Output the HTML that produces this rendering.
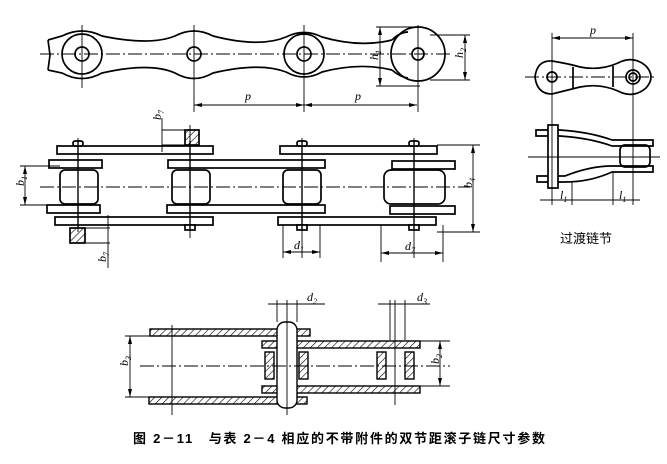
<!DOCTYPE html>
<html><head><meta charset="utf-8"><style>
html,body{margin:0;padding:0;background:#fff}
svg{display:block}
text{font-family:"Liberation Serif","Noto Serif CJK SC",serif;font-style:italic;font-size:12px;fill:#000}
.cj{font-family:"Liberation Sans","Noto Sans CJK SC",sans-serif;font-style:normal;font-weight:bold;font-size:13px}
</style></head><body>
<svg width="667" height="464" viewBox="0 0 667 464" xmlns="http://www.w3.org/2000/svg">
<defs>
<pattern id="h" width="5" height="5" patternUnits="userSpaceOnUse" patternTransform="rotate(45)"><line x1="0" y1="0" x2="0" y2="5" stroke="#000" stroke-width="1.2"/></pattern>
<marker id="a" markerWidth="8" markerHeight="6" refX="8" refY="3" orient="auto-start-reverse" markerUnits="userSpaceOnUse"><path d="M0,1 L8,3 L0,5 Z" fill="#000"/></marker>
</defs>
<g fill="none" stroke="#000" stroke-width="1.7">
<path d="M48,40 L62,36 Q82,26 102,36 Q150,46 175,36 Q194,26 213,36 Q260,48 286,37 Q304,28 322,37 Q360,48 392,40"/>
<path d="M48,70 L62,73 Q82,84 102,73 Q150,62 175,73 Q194,84 213,73 Q260,62 286,72 Q304,82 322,72 Q360,62 392,70"/>
<path d="M48,40 L50,55 L48,70"/>
<circle cx="82" cy="54" r="20"/><circle cx="304" cy="54" r="20"/>
<circle cx="82" cy="54" r="7"/><circle cx="194" cy="54" r="7"/><circle cx="304" cy="54" r="7"/><circle cx="418" cy="54" r="6"/>
<circle cx="418" cy="54" r="27"/><path d="M392,40 Q400,32 408,32 M392,70 Q400,77 408,78"/>
</g>
<g stroke="#000" stroke-width="0.9" fill="none">
<line x1="40" y1="54" x2="450" y2="54" stroke-dasharray="14,3,2,3"/>
<line x1="82" y1="25" x2="82" y2="88"/><line x1="194" y1="25" x2="194" y2="112"/><line x1="304" y1="25" x2="304" y2="112"/><line x1="418" y1="25" x2="418" y2="112"/>
<line x1="194" y1="105" x2="304" y2="105" marker-start="url(#a)" marker-end="url(#a)"/>
<line x1="304" y1="105" x2="417" y2="105" marker-start="url(#a)" marker-end="url(#a)"/>
<line x1="380" y1="27" x2="380" y2="86" marker-start="url(#a)" marker-end="url(#a)"/><line x1="376" y1="27" x2="420" y2="27"/><line x1="376" y1="86" x2="420" y2="86"/>
<line x1="465" y1="35" x2="465" y2="80" marker-start="url(#a)" marker-end="url(#a)"/><line x1="430" y1="35" x2="470" y2="35"/><line x1="430" y1="80" x2="470" y2="80"/>
</g>
<text x="245" y="100">p</text><text x="355" y="100">p</text>
<text x="374" y="64" transform="rotate(-90 374 60)">h<tspan font-size="8" dy="3">1</tspan></text>
<text x="459" y="62" transform="rotate(-90 459 58)">h<tspan font-size="8" dy="3">2</tspan></text>

<g fill="#fff" stroke="#000" stroke-width="1.7">
<rect x="60" y="170" width="38" height="34" rx="5"/><rect x="172" y="170" width="38" height="34" rx="5"/><rect x="283" y="170" width="38" height="34" rx="5"/><rect x="384" y="170" width="61" height="34" rx="7"/>
<rect x="57" y="146" width="156" height="8"/><rect x="280" y="146" width="157" height="8"/>
<rect x="49" y="160" width="53" height="8"/><rect x="168" y="160" width="157" height="8"/><rect x="392" y="161" width="63" height="8"/>
<rect x="47" y="205" width="53" height="8"/><rect x="167" y="205" width="158" height="8"/><rect x="390" y="206" width="65" height="8"/>
<rect x="55" y="217" width="158" height="8"/><rect x="278" y="217" width="158" height="8"/>
<rect x="73" y="141" width="10" height="5" rx="2"/><rect x="297" y="141" width="10" height="5" rx="2"/><rect x="409" y="141" width="10" height="5" rx="2"/>
<rect x="185" y="225" width="10" height="5"/><rect x="297" y="225" width="10" height="5"/><rect x="409" y="225" width="10" height="5"/>
<rect x="185" y="130" width="14" height="15" fill="url(#h)"/><rect x="70" y="228" width="15" height="15" fill="url(#h)"/>
</g>
<g stroke="#000" stroke-width="1.4">
<line x1="78" y1="141" x2="78" y2="228"/><line x1="190" y1="141" x2="190" y2="230"/><line x1="302" y1="141" x2="302" y2="230"/><line x1="414" y1="141" x2="414" y2="230"/>
</g>
<g stroke="#000" stroke-width="0.9" fill="none">
<line x1="40" y1="187" x2="470" y2="187" stroke-dasharray="14,3,2,3"/>
<line x1="78" y1="138" x2="78" y2="232"/><line x1="190" y1="125" x2="190" y2="238"/><line x1="302" y1="138" x2="302" y2="258"/><line x1="414" y1="138" x2="414" y2="258"/>
<line x1="20" y1="166" x2="60" y2="166"/><line x1="20" y1="205" x2="50" y2="205"/><line x1="25" y1="166" x2="25" y2="205" marker-start="url(#a)" marker-end="url(#a)"/>
<line x1="437" y1="145" x2="480" y2="145"/><line x1="437" y1="232" x2="480" y2="232"/><line x1="473" y1="145" x2="473" y2="232" marker-start="url(#a)" marker-end="url(#a)"/>
<line x1="283" y1="225" x2="283" y2="258"/><line x1="320" y1="225" x2="320" y2="258"/><line x1="283" y1="252" x2="320" y2="252" marker-start="url(#a)" marker-end="url(#a)"/>
<line x1="381" y1="225" x2="381" y2="262"/><line x1="443" y1="225" x2="443" y2="262"/><line x1="381" y1="253" x2="443" y2="253" marker-start="url(#a)" marker-end="url(#a)"/>
<line x1="162" y1="130" x2="185" y2="130"/><line x1="162" y1="145" x2="185" y2="145"/><line x1="162" y1="118" x2="162" y2="152"/>
<line x1="85" y1="228" x2="110" y2="228"/><line x1="85" y1="243" x2="110" y2="243"/><line x1="108" y1="215" x2="108" y2="268"/>
</g>
<text x="157" y="124" transform="rotate(-90 157 120)">b<tspan font-size="8" dy="3">7</tspan></text>
<text x="102" y="266" transform="rotate(-90 102 262)">b<tspan font-size="8" dy="3">7</tspan></text>
<text x="20" y="190" transform="rotate(-90 20 186)">b<tspan font-size="8" dy="3">1</tspan></text>
<text x="468" y="192" transform="rotate(-90 468 188)">b<tspan font-size="8" dy="3">4</tspan></text>
<text x="294" y="249">d<tspan font-size="8" dy="3">1</tspan></text>
<text x="405" y="250">d<tspan font-size="8" dy="3">7</tspan></text>

<g fill="none" stroke="#000" stroke-width="1.7">
<path d="M552,61 Q570,64 580,67 Q600,71 618,63 Q633,55 646,66 Q656,77 646,88 Q633,99 618,91 Q600,83 580,87 Q568,90 552,94 Q537,94 535,77 Q537,60 552,61 Z"/>
<circle cx="552" cy="77" r="5"/><circle cx="633" cy="77" r="7"/><circle cx="633" cy="77" r="4"/>
<line x1="573" y1="67" x2="573" y2="88"/><line x1="613" y1="66" x2="613" y2="87"/>
<path d="M536,130 L560,130 Q590,132 612,140 L653,140 L653,146 L612,146 Q590,138 560,136 L536,136 Z"/>
<path d="M537,176 L565,176 Q590,166 612,166 L653,166 L653,172 L612,172 Q590,182 565,182 L537,182 Z"/>
<rect x="548" y="125" width="10" height="63" fill="#fff"/>
<rect x="620" y="145" width="30" height="22" rx="5"/>
</g>
<g stroke="#000" stroke-width="0.9" fill="none">
<line x1="525" y1="77" x2="655" y2="77" stroke-dasharray="14,3,2,3"/>
<line x1="552" y1="33" x2="552" y2="205"/><line x1="633" y1="33" x2="633" y2="205"/>
<line x1="552" y1="38" x2="633" y2="38" marker-start="url(#a)" marker-end="url(#a)"/>
<line x1="528" y1="157" x2="660" y2="157"/>
<line x1="572" y1="182" x2="572" y2="205"/><line x1="613" y1="172" x2="613" y2="205"/>
<line x1="540" y1="200" x2="640" y2="200"/>
</g>
<text x="590" y="34">p</text>
<text x="560" y="199">l<tspan font-size="8" dy="3">1</tspan></text>
<text x="619" y="199">l<tspan font-size="8" dy="3">1</tspan></text>
<text class="cj" x="560" y="243" style="font-weight:normal">过渡链节</text>

<g stroke="#000" stroke-width="1.4">
<rect x="150" y="329" width="160" height="7" fill="url(#h)"/>
<rect x="149" y="397" width="158" height="7" fill="url(#h)"/>
<rect x="262" y="341" width="158" height="7" fill="url(#h)"/>
<rect x="262" y="386" width="158" height="7" fill="url(#h)"/>
<rect x="265" y="352" width="9" height="27" fill="url(#h)"/><rect x="299" y="352" width="9" height="27" fill="url(#h)"/>
<rect x="377" y="352" width="9" height="27" fill="url(#h)"/><rect x="405" y="352" width="9" height="27" fill="url(#h)"/>
<rect x="277" y="322" width="20" height="86" rx="8" fill="#fff"/>
</g>
<g stroke="#000" stroke-width="0.9" fill="none">
<line x1="140" y1="366" x2="450" y2="366" stroke-dasharray="14,3,2,3"/>
<line x1="172" y1="325" x2="172" y2="415"/><line x1="287" y1="300" x2="287" y2="415"/><line x1="395" y1="300" x2="395" y2="405"/>
<line x1="277" y1="300" x2="277" y2="322"/><line x1="297" y1="300" x2="297" y2="322"/><line x1="268" y1="304" x2="325" y2="304"/>
<line x1="390" y1="300" x2="390" y2="340"/><line x1="405" y1="300" x2="405" y2="340"/><line x1="378" y1="304" x2="430" y2="304"/>
<line x1="125" y1="336" x2="150" y2="336"/><line x1="125" y1="397" x2="150" y2="397"/><line x1="130" y1="336" x2="130" y2="397" marker-start="url(#a)" marker-end="url(#a)"/>
<line x1="420" y1="341" x2="450" y2="341"/><line x1="420" y1="386" x2="450" y2="386"/><line x1="440" y1="341" x2="440" y2="386" marker-start="url(#a)" marker-end="url(#a)"/>
</g>
<text x="307" y="301">d<tspan font-size="8" dy="3">2</tspan></text>
<text x="417" y="301">d<tspan font-size="8" dy="3">3</tspan></text>
<text x="124" y="370" transform="rotate(-90 124 366)">b<tspan font-size="8" dy="3">3</tspan></text>
<text x="435" y="368" transform="rotate(-90 435 364)">b<tspan font-size="8" dy="3">2</tspan></text>
<text class="cj" x="133" y="443" textLength="412" lengthAdjust="spacing">图 2－11　与表 2－4 相应的不带附件的双节距滚子链尺寸参数</text>
</svg>
</body></html>
